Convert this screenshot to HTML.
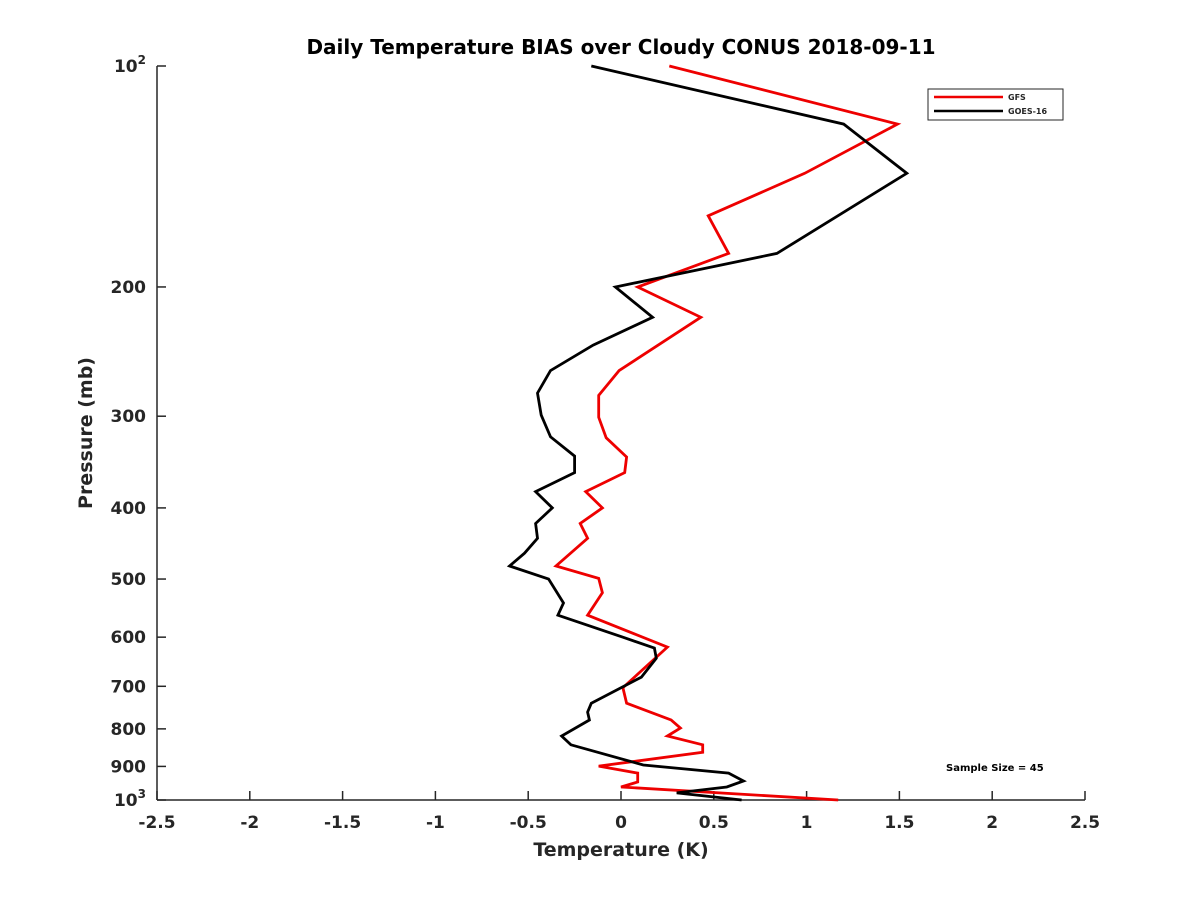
<!DOCTYPE html>
<html><head><meta charset="utf-8"><style>
body{margin:0;background:#fff}
svg text{font-family:"DejaVu Sans","Liberation Sans",sans-serif;font-weight:bold;fill:#262626}
</style></head><body>
<svg width="1200" height="900" viewBox="0 0 1200 900">
<rect width="1200" height="900" fill="#fff"/>
<text x="621" y="54" font-size="20" text-anchor="middle" fill="#000" style="fill:#000">Daily Temperature BIAS over Cloudy CONUS 2018-09-11</text>
<g id="axes"></g>
<g id="series"></g>
<text x="621" y="856" font-size="19" text-anchor="middle">Temperature (K)</text>
<text transform="translate(92,433) rotate(-90)" font-size="19" text-anchor="middle">Pressure (mb)</text>
<g>
<rect x="928" y="89" width="135" height="31" fill="#fff" stroke="#262626" stroke-width="1"/>
<line x1="934" y1="97" x2="1003" y2="97" stroke="#e00" stroke-width="2.5"/>
<text x="1008" y="100" font-size="8">GFS</text>
<line x1="934" y1="111" x2="1003" y2="111" stroke="#000" stroke-width="2.5"/>
<text x="1008" y="114" font-size="8">GOES-16</text>
</g>
<text x="946" y="771" font-size="10" style="fill:#000">Sample Size = 45</text>
</svg>
<script>
const xTicks=[-2.5,-2,-1.5,-1,-0.5,0,0.5,1,1.5,2,2.5];
const xTickLabels=["-2.5","-2","-1.5","-1","-0.5","0","0.5","1","1.5","2","2.5"];
const yTicks=[100,200,300,400,500,600,700,800,900,1000];
const yTickLabels=["10^2","200","300","400","500","600","700","800","900","10^3"];
const gfsTemp=[0.26,1.49,0.99,0.47,0.58,0.09,0.43,-0.01,-0.12,-0.12,-0.08,0.03,0.02,-0.19,-0.10,-0.22,-0.18,-0.35,-0.12,-0.10,-0.18,0.25,0.01,0.03,0.27,0.32,0.25,0.44,0.44,-0.12,0.09,0.09,0.00,1.17];
const gfsPres=[100,120,140,160,180,200,220,260,281,301,321,341,358,380,400,420,440,480,499,522,560,619,703,738,778,798,818,841,861,899,919,945,960,1000];
const goesTemp=[-0.16,1.20,1.54,0.84,-0.03,0.17,-0.15,-0.38,-0.45,-0.43,-0.38,-0.25,-0.25,-0.46,-0.37,-0.46,-0.45,-0.52,-0.60,-0.39,-0.31,-0.34,0.01,0.18,0.19,0.11,-0.16,-0.18,-0.17,-0.32,-0.27,0.12,0.58,0.66,0.57,0.30,0.65];
const goesPres=[100,120,140,180,200,220,240,260,279,299,320,340,358,380,400,420,440,461,480,500,539,560,600,621,641,680,738,759,778,818,841,896,919,942,960,978,1000];
const NS="http://www.w3.org/2000/svg";
const X0=157,X1=1085,Y0=66,Y1=800;
function xs(t){return X0+(t+2.5)/5*(X1-X0);}
function ys(p){return Y0+(Math.log10(p)-2)*(Y1-Y0);}
const ax=document.getElementById('axes');
function mk(tag,attrs,parent){const e=document.createElementNS(NS,tag);for(const k in attrs)e.setAttribute(k,attrs[k]);parent.appendChild(e);return e;}
let l=mk('line',{x1:X0,y1:Y1,x2:X1,y2:Y1,stroke:'#262626','stroke-width':1.5},ax);


l=mk('line',{x1:X0,y1:Y0,x2:X0,y2:Y1,stroke:'#262626','stroke-width':1.5},ax);


xTicks.forEach((t,i)=>{
 const x=xs(t);
 const tk=mk('line',{x1:x,y1:Y1,x2:x,y2:Y1-9,stroke:'#262626','stroke-width':1.5},ax);
 
 
 const tx=mk('text',{x:x,y:828,'font-size':17,'text-anchor':'middle'},ax);
 tx.textContent=xTickLabels[i];
 
 
});
yTicks.forEach((p,i)=>{
 const y=ys(p);
 const tk=mk('line',{x1:X0,y1:y,x2:X0+9,y2:y,stroke:'#262626','stroke-width':1.5},ax);
 
 
 const lab=yTickLabels[i];
 const tx=mk('text',{x:146,y:y+6,'font-size':17,'text-anchor':'end'},ax);
 if(lab.indexOf('^')>0){
  const [b,e]=lab.split('^');
  tx.textContent=b;
  const sp=mk('tspan',{dy:-8,'font-size':12},tx);
  sp.textContent=e;
 } else tx.textContent=lab;
 
 
});
const sg=document.getElementById('series');
function line(T,P,color,name){
 const d=T.map((t,i)=>(i?'L':'M')+xs(t).toFixed(1)+' '+ys(P[i]).toFixed(1)).join(' ');
 const p=mk('path',{d:d,fill:'none',stroke:color,'stroke-width':2.8,'stroke-linejoin':'miter'},sg);
 
 
}
line(gfsTemp,gfsPres,'#e00','gfs-line');
line(goesTemp,goesPres,'#000','goes16-line');
</script>
</body></html>
